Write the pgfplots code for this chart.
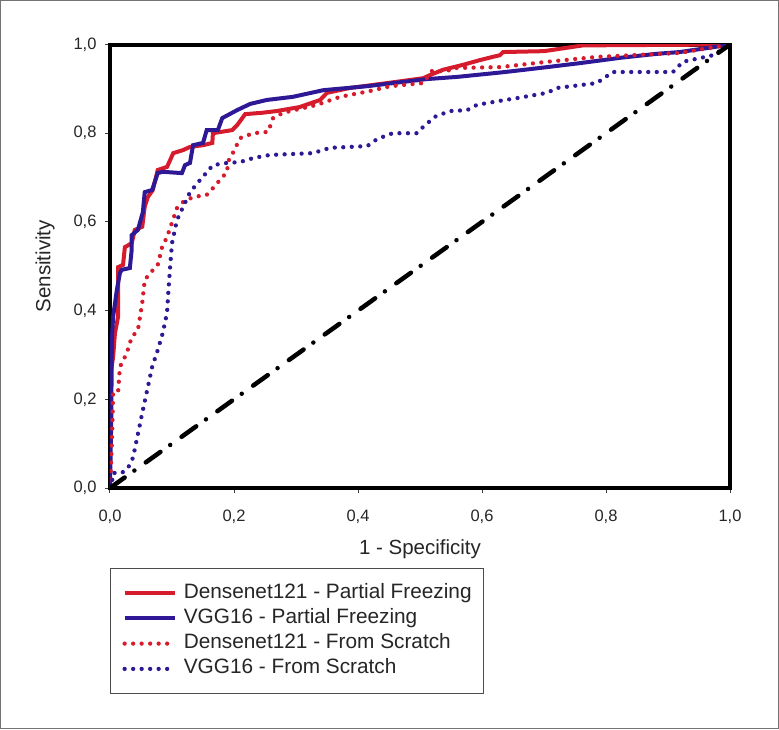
\documentclass[border=0pt]{standalone}
\usepackage{fontspec}
\setmainfont{Liberation Sans}
\usepackage{pgfplots}
\pgfplotsset{compat=1.18}
\definecolor{cred}{RGB}{214,28,44}
\definecolor{cblue}{RGB}{46,24,150}
\begin{document}
\begin{tikzpicture}
\useasboundingbox (-110pt,-241pt) rectangle (669pt,488pt);
\draw[black!55, line width=1pt] (-109.5pt,-240.5pt) rectangle (668.5pt,487.5pt);
\begin{axis}[
  at={(0pt,0pt)}, anchor=south west,
  scale only axis, width=620pt, height=443.5pt,
  xmin=0, xmax=1, ymin=0, ymax=1,
  xtick={0,0.2,0.4,0.6,0.8,1}, ytick={0,0.2,0.4,0.6,0.8,1},
  tick pos=left, tick align=outside, major tick length=5pt,
  tick style={line width=1pt, black!75},
  axis line style={line width=4pt, line cap=rect},
  /pgf/number format/use comma, /pgf/number format/fixed,
  /pgf/number format/fixed zerofill, /pgf/number format/precision=1,
  /pgf/number format/assume math mode=true,
  ticklabel style={font=\fontsize{16.5}{19}\selectfont, text=black!85},
  xticklabel style={yshift=-13pt},
  yticklabel style={xshift=-5pt},
  label style={font=\fontsize{20.5}{24}\selectfont, text=black!85},
  xlabel={1 - Specificity}, ylabel={Sensitivity},
  xlabel style={at={(axis description cs:0.5,-0.1375)}, anchor=center},
  ylabel style={at={(axis description cs:-0.1048,0.5)}, anchor=center},
  legend cell align=left,
  legend image code/.code={\draw[#1] (0pt,0pt) -- (50pt,0pt);},
  legend style={at={(axis description cs:0,-0.1804)}, anchor=north west,
    draw=black!70, line width=1pt, font=\fontsize{20.8}{24}\selectfont,
    text=black!85, inner xsep=12pt, inner ysep=15.5pt, row sep=7.3pt,
    nodes={inner xsep=0pt, inner ysep=0pt, text height=14pt, text depth=4pt},
    /tikz/every odd column/.append style={column sep=7pt}},
]
\addplot[cred, line width=4pt, line join=miter] coordinates {
(0,0) (0,0.250) (0.005,0.295) (0.008,0.349) (0.013,0.386) (0.013,0.498)
(0.021,0.503) (0.024,0.543) (0.035,0.552) (0.040,0.582) (0.052,0.589)
(0.056,0.634) (0.061,0.656) (0.069,0.672) (0.077,0.717) (0.092,0.724)
(0.102,0.755) (0.118,0.762) (0.129,0.769) (0.150,0.773) (0.165,0.778)
(0.166,0.800) (0.197,0.807) (0.205,0.818) (0.218,0.843) (0.245,0.846)
(0.269,0.850) (0.306,0.859) (0.339,0.875) (0.350,0.891) (0.387,0.902)
(0.447,0.913) (0.505,0.924) (0.516,0.931) (0.537,0.943) (0.569,0.954)
(0.597,0.965) (0.629,0.976) (0.634,0.983) (0.700,0.985) (0.763,0.998) (1,1)
};
\addlegendentry{Densenet121 - Partial Freezing}
\addplot[cblue, line width=4pt, line join=miter] coordinates {
(0,0) (0.002,0.153) (0.003,0.334) (0.005,0.386) (0.011,0.446) (0.016,0.485)
(0.019,0.492) (0.032,0.496) (0.035,0.537) (0.035,0.570) (0.045,0.582)
(0.053,0.622) (0.056,0.667) (0.068,0.672) (0.077,0.710) (0.085,0.713)
(0.116,0.710) (0.121,0.728) (0.129,0.733) (0.134,0.773) (0.150,0.778)
(0.156,0.807) (0.174,0.807) (0.181,0.834) (0.205,0.852) (0.226,0.866)
(0.253,0.875) (0.295,0.882) (0.344,0.897) (0.415,0.906) (0.511,0.922)
(0.560,0.927) (0.624,0.936) (0.650,0.940) (0.705,0.949) (0.758,0.958)
(0.823,0.970) (0.882,0.979) (0.919,0.983) (0.973,0.994) (1,1)
};
\addlegendentry{VGG16 - Partial Freezing}
\addplot[cred, line width=4.3pt, dash pattern=on 0pt off 8.5pt, line cap=round] coordinates {
(0,0) (0.003,0.100) (0.005,0.214) (0.013,0.216) (0.016,0.273) (0.027,0.304)
(0.035,0.340) (0.045,0.356) (0.052,0.417) (0.056,0.469) (0.065,0.485)
(0.077,0.503) (0.084,0.543) (0.092,0.566) (0.108,0.631) (0.118,0.645)
(0.134,0.656) (0.156,0.661) (0.166,0.676) (0.177,0.694) (0.189,0.713)
(0.190,0.735) (0.198,0.755) (0.210,0.789) (0.231,0.800) (0.255,0.803)
(0.263,0.834) (0.279,0.846) (0.334,0.864) (0.371,0.882) (0.419,0.895)
(0.452,0.906) (0.505,0.913) (0.519,0.940) (0.544,0.940) (0.553,0.947)
(0.629,0.949) (0.705,0.961) (0.785,0.972) (0.919,0.981) (1,1)
};
\addlegendentry{Densenet121 - From Scratch}
\addplot[cblue, line width=4.3pt, dash pattern=on 0pt off 8.5pt, line cap=round] coordinates {
(0,0) (0.003,0.011) (0.005,0.034) (0.019,0.034) (0.029,0.045) (0.037,0.068)
(0.043,0.108) (0.052,0.169) (0.060,0.221) (0.068,0.273) (0.077,0.311)
(0.085,0.349) (0.092,0.395) (0.094,0.440) (0.097,0.499) (0.100,0.552)
(0.108,0.604) (0.118,0.634) (0.129,0.667) (0.145,0.694) (0.166,0.728)
(0.189,0.733) (0.210,0.735) (0.231,0.744) (0.258,0.751) (0.327,0.755)
(0.355,0.767) (0.415,0.771) (0.431,0.787) (0.456,0.800) (0.495,0.800)
(0.505,0.814) (0.524,0.837) (0.548,0.850) (0.576,0.852) (0.592,0.864)
(0.629,0.873) (0.656,0.879) (0.705,0.891) (0.721,0.902) (0.785,0.913)
(0.811,0.938) (0.908,0.938) (0.924,0.961) (0.973,0.976) (1,1)
};
\addlegendentry{VGG16 - From Scratch}
\addplot[black, line width=4.5pt, dash pattern=on 18pt off 12pt on 0pt off 14pt, line cap=round, forget plot] coordinates {(0,0) (1,1)};
\end{axis}
\end{tikzpicture}
\end{document}
